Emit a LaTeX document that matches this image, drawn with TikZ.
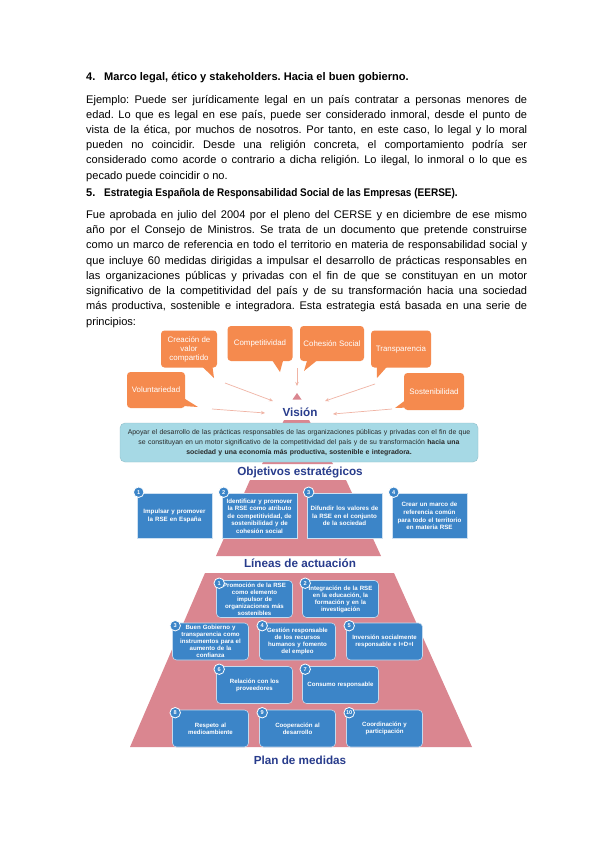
\documentclass[tikz,border=0pt]{standalone}
\usepackage{fontspec}
\setmainfont{Liberation Sans}
\usetikzlibrary{arrows.meta}
\definecolor{orangebox}{RGB}{245,138,78}
\definecolor{arrowpink}{RGB}{240,180,165}
\definecolor{pyrpink}{RGB}{218,134,144}
\definecolor{cyanbox}{RGB}{166,217,229}
\definecolor{bluebox}{RGB}{60,133,200}
\definecolor{titleblue}{RGB}{40,60,140}
\definecolor{textgray}{RGB}{40,40,40}
\frenchspacing
\begin{document}
\begin{tikzpicture}[x=1pt,y=-1pt,
  bodytext/.style={anchor=base west,inner sep=0pt,font=\fontsize{11.07}{14}\selectfont},
  headtext/.style={anchor=base west,inner sep=0pt,font=\fontsize{11.07}{14}\selectfont\bfseries},
  callout/.style={fill=orangebox,rounded corners=3.5pt,text=white,align=center,inner sep=1pt,
    font=\fontsize{7.9}{9}\selectfont},
  visarrow/.style={draw=arrowpink,line width=0.7pt,-{Stealth[length=4pt,width=3.5pt]}},
  title/.style={text=titleblue,inner sep=0pt,font=\fontsize{11.7}{13}\selectfont\bfseries},
  objbox/.style={fill=bluebox,draw=white!75!bluebox,line width=0.6pt,minimum width=75pt,
    minimum height=45pt,text width=72pt,align=center,text=white,inner sep=0pt,
    font=\fontsize{6.2}{7.6}\selectfont\bfseries},
  linbox/.style={fill=bluebox,draw=white!70!bluebox,line width=0.6pt,rounded corners=4pt,
    minimum width=76pt,minimum height=37pt,text width=70pt,align=center,text=white,inner sep=0pt,
    font=\fontsize{6.1}{7}\selectfont\bfseries},
  numcirc/.style={circle,fill=bluebox,draw=white,line width=0.8pt,minimum size=10.5pt,inner sep=0pt,
    text=white,font=\fontsize{5.6}{6}\selectfont\bfseries}
]
\useasboundingbox (0,0) rectangle (599,848);
\fill[white] (0,0) rectangle (599,848);

% ---------- text ----------
\node[headtext] (h4n) at (86,81) {4.};
\node[headtext] (h4) at (104,81) {Marco legal, ético y stakeholders. Hacia el buen gobierno.};
\foreach \t [count=\i from 0] in {
  {Ejemplo: Puede ser jurídicamente legal en un país contratar a personas menores de},
  {edad. Lo que es legal en ese país, puede ser considerado inmoral, desde el punto de},
  {vista de la ética, por muchos de nosotros. Por tanto, en este caso, lo legal y lo moral},
  {pueden no coincidir. Desde una religión concreta, el comportamiento podría ser},
  {considerado como acorde o contrario a dicha religión. Lo ilegal, lo inmoral o lo que es}}
  \node[bodytext] (pa\i) at (86,{103+15.2*\i}) {\makebox[441pt][s]{\t}};
\node[bodytext] (pa5) at (86,179) {pecado puede coincidir o no.};

\node[headtext] (h5n) at (86,196) {5.};
\node[headtext] (h5) at (104,196) {\scalebox{0.905}[1]{Estrategia Española de Responsabilidad Social de las Empresas (EERSE).}};
\foreach \t [count=\i from 0] in {
  {Fue aprobada en julio del 2004 por el pleno del CERSE y en diciembre de ese mismo},
  {año por el Consejo de Ministros. Se trata de un documento que pretende construirse},
  {como un marco de referencia en todo el territorio en materia de responsabilidad social y},
  {que incluye 60 medidas dirigidas a impulsar el desarrollo de prácticas responsables en},
  {las organizaciones públicas y privadas con el fin de que se constituyan en un motor},
  {significativo de la competitividad del país y de su transformación hacia una sociedad},
  {más productiva, sostenible e integradora. Esta estrategia está basada en una serie de}}
  \node[bodytext] (pb\i) at (86,{218.5+15.2*\i}) {\makebox[441pt][s]{\t}};
\node[bodytext] (pb7) at (86,325) {principios:};

% ---------- callouts ----------
\node[callout,minimum width=56pt,minimum height=37pt] (crea) at (189,349) {Creación de\\valor\\compartido};
\node[callout,minimum width=65pt,minimum height=35pt] (comp) at (260,343.5) {Competitividad};
\node[callout,minimum width=64pt,minimum height=35pt] (cohe) at (332,343.5) {Cohesión Social};
\node[callout,minimum width=60pt,minimum height=37pt] (tran) at (401,349) {Transparencia};
\node[callout,minimum width=58pt,minimum height=36pt] (volu) at (156,390) {Voluntariedad};
\node[callout,minimum width=60pt,minimum height=37pt] (sost) at (434,391.5) {Sostenibilidad};

\coordinate (creatip) at (214,378);
\coordinate (comptip) at (280,372);
\coordinate (cohetip) at (304,371);
\coordinate (trantip) at (377,378);
\coordinate (volutip) at (198,407);
\coordinate (sosttip) at (395,408);
\fill[orangebox] ([xshift=-17pt,yshift=3pt]crea.south east) -- ([xshift=-5pt,yshift=3pt]crea.south east) -- (creatip) -- cycle;
\fill[orangebox] ([xshift=-22pt,yshift=3pt]comp.south east) -- ([xshift=-9pt,yshift=3pt]comp.south east) -- (comptip) -- cycle;
\fill[orangebox] ([xshift=8pt,yshift=3pt]cohe.south west) -- ([xshift=20pt,yshift=3pt]cohe.south west) -- (cohetip) -- cycle;
\fill[orangebox] ([xshift=6pt,yshift=3pt]tran.south west) -- ([xshift=18pt,yshift=3pt]tran.south west) -- (trantip) -- cycle;
\fill[orangebox] ([xshift=-14pt,yshift=3pt]volu.south east) -- ([xshift=-3pt,yshift=11pt]volu.south east) -- (volutip) -- cycle;
\fill[orangebox] ([xshift=14pt,yshift=3pt]sost.south west) -- ([xshift=3pt,yshift=11pt]sost.south west) -- (sosttip) -- cycle;

% ---------- arrows to vision ----------
\coordinate (a1s) at (225,383);  \coordinate (a1e) at (273,401);
\coordinate (a2s) at (212,409);  \coordinate (a2e) at (265,413);
\coordinate (a3s) at (297,368);  \coordinate (a3e) at (297,386);
\coordinate (a4s) at (375,384);  \coordinate (a4e) at (325,401);
\coordinate (a5s) at (392,409);  \coordinate (a5e) at (333,414);
\draw[visarrow] (a1s) -- (a1e);
\draw[visarrow] (a2s) -- (a2e);
\draw[visarrow] (a3s) -- (a3e);
\draw[visarrow] (a4s) -- (a4e);
\draw[visarrow] (a5s) -- (a5e);
\fill[pyrpink] (297,393) -- (301.5,399.5) -- (292.5,399.5) -- cycle;

\node[title] (vision) at (300,412.5) {Visión};

% ---------- vision box ----------
\fill[pyrpink] (284,420) -- (309,420) -- (333,464) -- (262,464) -- cycle;
\node[fill=cyanbox,draw=cyanbox!88!black,line width=0.4pt,rounded corners=5pt,minimum width=358pt,
  minimum height=39pt,text width=356pt,align=center,inner sep=0pt,text=textgray,
  font=\fontsize{6.9}{10}\selectfont] (visbox) at (299,442.5)
  {Apoyar el desarrollo de las prácticas responsables de las organizaciones públicas y privadas con el fin de que\\
   se constituyan en un motor significativo de la competitividad del país y de su transformación \textbf{hacia una}\\
   \textbf{sociedad y una economía más productiva, sostenible e integradora.}};

\node[title] (objt) at (300,472) {Objetivos estratégicos};

% ---------- objectives ----------
\fill[pyrpink] (250,480) -- (346,480) -- (381,556) -- (216,556) -- cycle;
\node[objbox] (o1) at (174.5,516) {Impulsar y promover\\la RSE en España};
\node[objbox] (o2) at (259.5,516) {Identificar y promover\\la RSE como atributo\\de competitividad, de\\sostenibilidad y de\\cohesión social};
\node[objbox] (o3) at (344.5,516) {Difundir los valores de\\la RSE en el conjunto\\de la sociedad};
\node[objbox] (o4) at (429.5,516) {Crear un marco de\\referencia común\\para todo el territorio\\en materia RSE};
\foreach \k in {1,2,3,4}
  \node[numcirc] (on\k) at ([xshift=2pt,yshift=1pt]o\k.north west) {\k};

\node[title] (lint) at (300,563) {Líneas de actuación};

% ---------- lines of action ----------
\fill[pyrpink] (205,573) -- (394,573) -- (472,747) -- (130,747) -- cycle;
\node[linbox] (l1) at (254.5,599) {Promoción de la RSE\\como elemento\\impulsor de\\organizaciones más\\sostenibles};
\node[linbox] (l2) at (340.5,599) {Integración de la RSE\\en la educación, la\\formación y en la\\investigación};
\node[linbox] (l3) at (210.5,641.5) {Buen Gobierno y\\transparencia como\\instrumentos para el\\aumento de la\\confianza};
\node[linbox] (l4) at (297.5,641.5) {Gestión responsable\\de los recursos\\humanos y fomento\\del empleo};
\node[linbox] (l5) at (384.5,641.5) {Inversión socialmente\\responsable e I+D+I};
\node[linbox] (l6) at (254.5,685) {Relación con los\\proveedores};
\node[linbox] (l7) at (340.5,685) {Consumo responsable};
\node[linbox] (l8) at (210.5,728.5) {Respeto al\\medioambiente};
\node[linbox] (l9) at (297.5,728.5) {Cooperación al\\desarrollo};
\node[linbox] (l10) at (384.5,728.5) {Coordinación y\\participación};
\foreach \k in {1,...,10}
  \node[numcirc] (ln\k) at ([xshift=3pt,yshift=-3pt]l\k.north west) {\k};

\node[title] (plan) at (300,760) {Plan de medidas};
\end{tikzpicture}
\end{document}
